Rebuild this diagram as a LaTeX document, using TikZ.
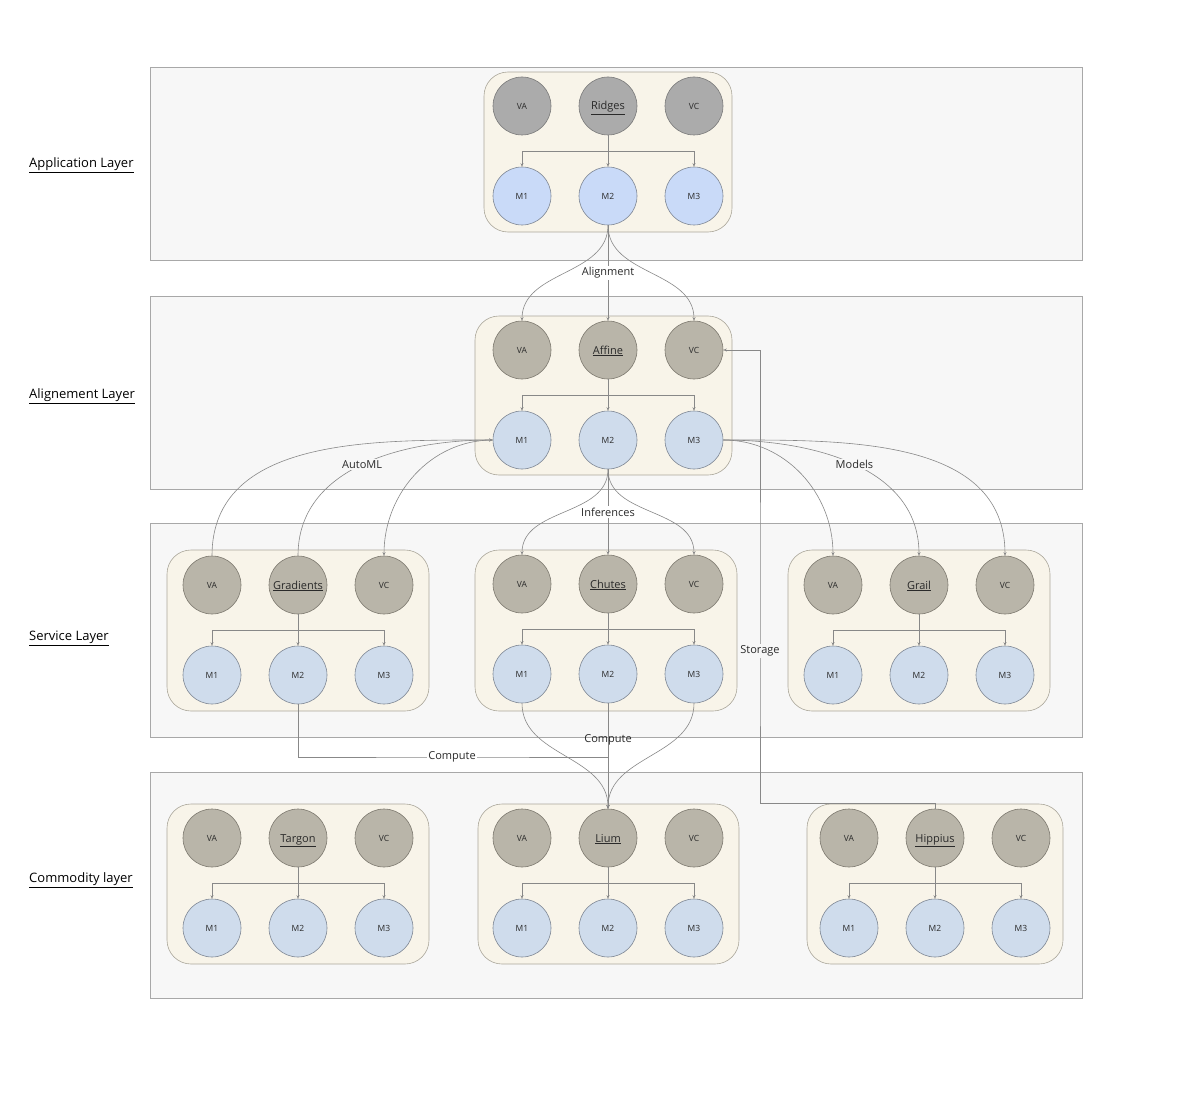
\documentclass[tikz,border=0pt]{standalone}
\usepackage{fontspec}
\setmainfont{Open Sans}
\usetikzlibrary{arrows.meta}
\definecolor{layerfill}{HTML}{F7F7F7}
\definecolor{layerdraw}{HTML}{A8A8A8}
\definecolor{grpfill}{HTML}{F8F4E9}
\definecolor{grpdraw}{HTML}{ABA79B}
\definecolor{topgray}{HTML}{ABABAB}
\definecolor{topgraydraw}{HTML}{7A7A7A}
\definecolor{topwarm}{HTML}{B9B5A9}
\definecolor{topwarmdraw}{HTML}{7D796F}
\definecolor{blueR}{HTML}{C9DAF8}
\definecolor{blueL}{HTML}{CFDCEC}
\definecolor{bluedraw}{HTML}{7F8794}
\definecolor{linec}{HTML}{888888}
\definecolor{txt}{HTML}{2A2A2A}
\newcommand\mkgrp[6]{%
  \node[#5,small] (#1va) at (#2,#3) {VA};
  \node[#5,big] (#1c) at (#2+86,#3) {\underline{#4}};
  \node[#5,small] (#1vc) at (#2+172,#3) {VC};
  \node[#6,small] (#1m1) at (#2,#3+90) {M1};
  \node[#6,small] (#1m2) at (#2+86,#3+90) {M2};
  \node[#6,small] (#1m3) at (#2+172,#3+90) {M3};
  \draw[arr] (#1c.south) -- (#1m2.north);
  \draw[arr] (#1c.south) -- ++(0,16) -| (#1m1.north);
  \draw[arr] (#1c.south) -- ++(0,16) -| (#1m3.north);
}
\begin{document}
\begin{tikzpicture}[x=1pt,y=-1pt,
  conn/.style={draw=linec, line width=0.6pt},
  arr/.style={conn,-{Stealth[length=3.5pt,width=3pt]}},
  circ/.style={circle, minimum size=58pt, inner sep=0pt, line width=0.6pt, text=txt},
  topg/.style={circ, fill=topgray, draw=topgraydraw},
  topw/.style={circ, fill=topwarm, draw=topwarmdraw},
  botb/.style={circ, fill=blueR, draw=bluedraw},
  botl/.style={circ, fill=blueL, draw=bluedraw},
  small/.style={font=\fontsize{8.5}{10}\selectfont},
  big/.style={font=\fontsize{11}{13}\selectfont, text height=8pt, text depth=0pt},
  elabel/.style={font=\fontsize{11}{13}\selectfont, text=txt, inner sep=1.5pt},
  layerlbl/.style={font=\fontsize{13}{15}\selectfont, text=black, anchor=west, inner sep=0pt},
  layerbox/.style={fill=layerfill, draw=layerdraw, line width=0.8pt},
  grpbox/.style={fill=grpfill, draw=grpdraw, line width=0.6pt, rounded corners=24pt},
]
\useasboundingbox[fill=white] (0,0) rectangle (1200,1105);

% layers
\draw[layerbox] (150,67) rectangle (1082,260);
\draw[layerbox] (150,296) rectangle (1082,489);
\draw[layerbox] (150,523) rectangle (1082,737);
\draw[layerbox] (150,772) rectangle (1082,998);

\node[layerlbl] (lapp) at (29,165) {\underline{Application Layer}};
\node[layerlbl] (lali) at (29,396) {\underline{Alignement Layer}};
\node[layerlbl] (lser) at (29,638) {\underline{Service Layer}};
\node[layerlbl] (lcom) at (29,880) {\underline{Commodity layer}};

% group boxes
\draw[grpbox] (484,72) rectangle (732,232);
\draw[grpbox] (475,316) rectangle (732,475);
\draw[grpbox] (167,550) rectangle (429,711);
\draw[grpbox] (475,550) rectangle (737,711);
\draw[grpbox] (788,550) rectangle (1050,711);
\draw[grpbox] (167,804) rectangle (429,964);
\draw[grpbox] (478,804) rectangle (739,964);
\draw[grpbox] (807,804) rectangle (1063,964);

% groups
\mkgrp{r}{522}{106}{Ridges}{topg}{botb}
\mkgrp{a}{522}{350}{Affine}{topw}{botl}
\mkgrp{g}{212}{585}{Gradients}{topw}{botl}
\mkgrp{c}{522}{584}{Chutes}{topw}{botl}
\mkgrp{s}{833}{585}{Grail}{topw}{botl}
\mkgrp{t}{212}{838}{Targon}{topw}{botl}
\mkgrp{l}{522}{838}{Lium}{topw}{botl}
\mkgrp{h}{849}{838}{Hippius}{topw}{botl}

% Alignment
\draw[arr] (rm2.south) -- node[elabel, fill=white]{Alignment} (ac.north);
\draw[arr] (rm2.south) to[out=-90,in=90] (ava.north);
\draw[arr] (rm2.south) to[out=-90,in=90] (avc.north);

% AutoML
\draw[arr] (gva.north) to[out=90,in=180] (am1.west);
\draw[arr] (gc.north) to[out=90,in=180] node[pos=0.5, elabel, fill=layerfill]{AutoML} (am1.west);
\draw[arr] (am1.west) to[out=180,in=90] (gvc.north);

% Models
\draw[arr] (am3.east) to[out=0,in=90] (sva.north);
\draw[arr] (am3.east) to[out=0,in=90] node[pos=0.5, elabel, fill=layerfill]{Models} (sc.north);
\draw[arr] (am3.east) to[out=0,in=90] (svc.north);

% Inferences
\draw[arr] (am2.south) -- node[elabel, fill=white]{Inferences} (cc.north);
\draw[arr] (am2.south) to[out=-90,in=90] (cva.north);
\draw[arr] (am2.south) to[out=-90,in=90] (cvc.north);

% Compute
\draw[arr] (cm2.south) -- node[elabel, pos=0.35]{Compute} (lc.north);
\draw[arr] (cm1.south) to[out=-90,in=90] (lc.north);
\draw[arr] (cm3.south) to[out=-90,in=90] (lc.north);
\coordinate (cx) at (452,757);
\draw[arr] (gm2.south) |- (cx) node[elabel, fill=white]{Compute} -| (lc.north);

% Storage
\coordinate (sx) at (760,651);
\draw[arr] (hc.north) -- ++(0,-5) -| (sx) node[elabel, fill=layerfill]{Storage} |- (avc.east);
\end{tikzpicture}
\end{document}
